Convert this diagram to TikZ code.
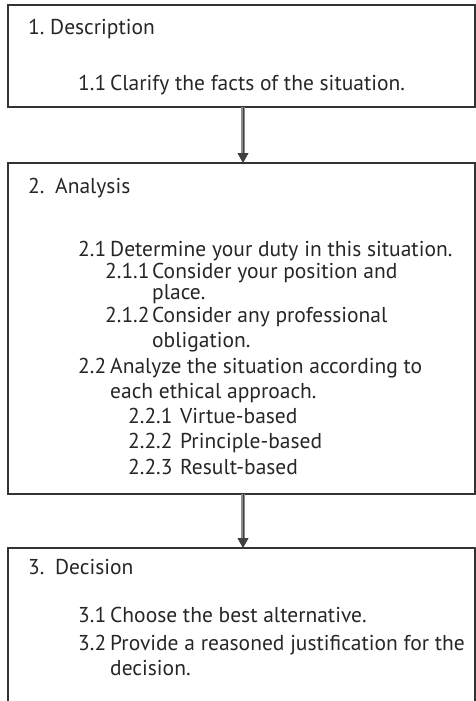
\documentclass[tikz,border=0pt]{standalone}
\usepackage{fontspec}
\setmainfont{PT Sans}
\usetikzlibrary{arrows.meta,calc}

\begin{document}
\begin{tikzpicture}[x=1pt,y=-1pt,
  box/.style={draw=black!80, line width=1.1pt, inner sep=0pt, outer sep=0pt,
    minimum width=\boxw pt, anchor=north west},
  txt/.style={anchor=base west, inner sep=0pt, text=black!85,
    font=\fontsize{21.5}{26}\selectfont},
  flow/.style={line width=3.2pt, draw=black!45},
  flowcore/.style={line width=0.8pt, draw=black!75,
    -{Triangle[length=10pt,width=11pt]}}]

% ---------- Parameter ----------
\def\boxl{8}
\def\boxw{467}
\def\arrx{243}

% Boundingbox (476 x 701)
\useasboundingbox (0,0) rectangle (476,701);

% ===================
% 1. Description
% ===================
\node[box, minimum height=102pt] (desc) at (\boxl,5) {};
\node[txt] (descT) at (28,35) {\makebox[22pt][l]{1.}Description};
\node[txt] (desc1) at (78,90) {\makebox[32pt][l]{1.1}Clarify the facts of the situation.};

% ===================
% 2. Analysis
% ===================
\node[box, minimum height=331pt] (ana) at (\boxl,163) {};
\node[txt] (anaT) at (28,193) {\makebox[27pt][l]{2.}Analysis};
\node[txt] (ana1)  at (78,256)  {\makebox[32pt][l]{2.1}Determine your duty in this situation.};
\node[txt] (ana11) at (105,278) {\makebox[47pt][l]{2.1.1}Consider your position and};
\node[txt] (ana11b) at (152,299) {place.};
\node[txt] (ana12) at (105,322) {\makebox[47pt][l]{2.1.2}Consider any professional};
\node[txt] (ana12b) at (152,347) {obligation.};
\node[txt] (ana2)  at (78,373)  {\makebox[32pt][l]{2.2}Analyze the situation according to};
\node[txt] (ana2b) at (110,398) {each ethical approach.};
\node[txt] (ana21) at (128,423) {\makebox[52pt][l]{2.2.1}Virtue-based};
\node[txt] (ana22) at (128,448) {\makebox[52pt][l]{2.2.2}Principle-based};
\node[txt] (ana23) at (128,474) {\makebox[52pt][l]{2.2.3}Result-based};

% ===================
% 3. Decision (unten offen)
% ===================
\node[inner sep=0pt, outer sep=0pt, minimum width=\boxw pt, minimum height=170pt,
  anchor=north west] (dec) at (\boxl,548) {};
\draw[black!80, line width=1.1pt]
  (dec.south west) -- (dec.north west) -- (dec.north east) -- (dec.south east);
\node[txt] (decT) at (28,574) {\makebox[27pt][l]{3.}Decision};
\node[txt] (dec1) at (78,622) {\makebox[32pt][l]{3.1}Choose the best alternative.};
\node[txt] (dec2) at (78,650) {\makebox[32pt][l]{3.2}Provide a reasoned justification for the};
\node[txt] (dec2b) at (110,675) {decision.};

% ---------- Pfeile ----------
\draw[flow] (desc.south -| \arrx,0) -- ($(ana.north -| \arrx,0)+(0,-9)$);
\draw[flowcore] (desc.south -| \arrx,0) -- (ana.north -| \arrx,0);
\draw[flow] (ana.south -| \arrx,0) -- ($(dec.north -| \arrx,0)+(0,-9)$);
\draw[flowcore] (ana.south -| \arrx,0) -- (dec.north -| \arrx,0);

\end{tikzpicture}
\end{document}
